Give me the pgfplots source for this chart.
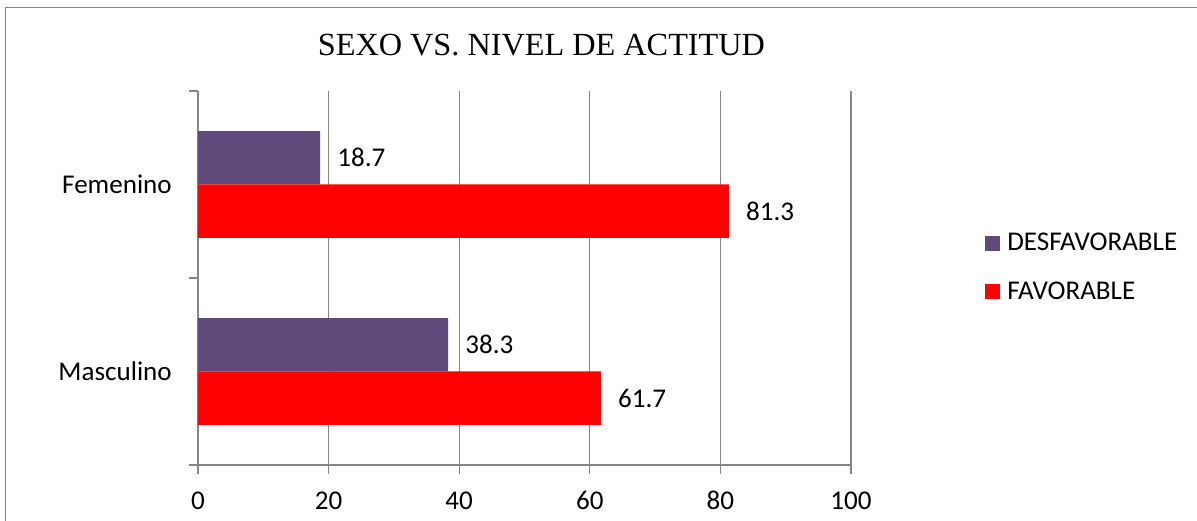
\documentclass[border=0pt]{standalone}
\usepackage{pgfplots}
\pgfplotsset{compat=1.18}
\usepackage{fontspec}
\setmainfont{Carlito}
\newfontfamily\titlefont{Liberation Serif}
\definecolor{desf}{HTML}{604A7B}
\definecolor{fav}{HTML}{FF0000}
\definecolor{gridgray}{HTML}{868686}
\begin{document}
\begin{tikzpicture}
\useasboundingbox (-148.5pt,-42pt) rectangle (749.25pt,348.75pt);
\draw[color=gridgray, line width=1.1pt] (-144.4pt,-44pt) -- (-144.4pt,343.1pt) -- (752pt,343.1pt);
\begin{axis}[
  at={(0pt,0pt)}, anchor=south west,
  scale only axis, width=489.75pt, height=280.5pt,
  xbar, bar width=40pt,
  xmin=0, xmax=100, ymin=-0.5, ymax=1.5,
  axis x line*=bottom, axis y line*=left,
  axis line style={gridgray, line width=1pt},
  xtick={0,20,40,60,80,100},
  xmajorgrids, grid style={gridgray, line width=1pt},
  tick align=outside, major tick length=6.5pt,
  tick style={gridgray, line width=1pt},
  ytick={0,1}, yticklabels={Masculino,Femenino},
  ytick style={draw=none},
  extra y ticks={-0.5,0.5,1.5}, extra y tick labels={},
  extra y tick style={grid=none, ytick style={draw=gridgray, line width=1pt}},
  /pgf/number format/assume math mode=true,
  ticklabel style={font=\fontsize{20.3}{23}\selectfont, text=black},
  xticklabel style={anchor=base, yshift=-27pt},
  yticklabel style={anchor=east, inner sep=0pt, xshift=-13pt},
  title={\titlefont\fontsize{24.2}{27}\selectfont SEXO VS. NIVEL DE ACTITUD},
  title style={at={(axis description cs:0.526,1.073)}, anchor=base, inner sep=0pt},
  nodes near coords, point meta=x,
  nodes near coords style={anchor=west, inner sep=0pt, xshift=12.75pt, font=\fontsize{20.3}{23}\selectfont, text=black},
  legend image code/.code={\fill[#1] (0pt,-5.625pt) rectangle (11.25pt,5.625pt);},
  legend style={at={(axis description cs:1.2052,0.529)}, anchor=west, draw=none, fill=none,
    inner sep=0pt, font=\fontsize{20.3}{23}\selectfont, row sep=21.5pt,
    nodes={inner sep=0pt},
    /tikz/every odd column/.append style={column sep=5.25pt}},
  legend cell align=left,
]
\addplot[fill=desf, draw=none, bar shift=20pt] coordinates {(38.3,0) (18.7,1)};
\addlegendentry{DESFAVORABLE}
\addplot[fill=fav, draw=none, bar shift=-20pt] coordinates {(61.7,0) (81.3,1)};
\addlegendentry{FAVORABLE}
\end{axis}
\end{tikzpicture}
\end{document}
